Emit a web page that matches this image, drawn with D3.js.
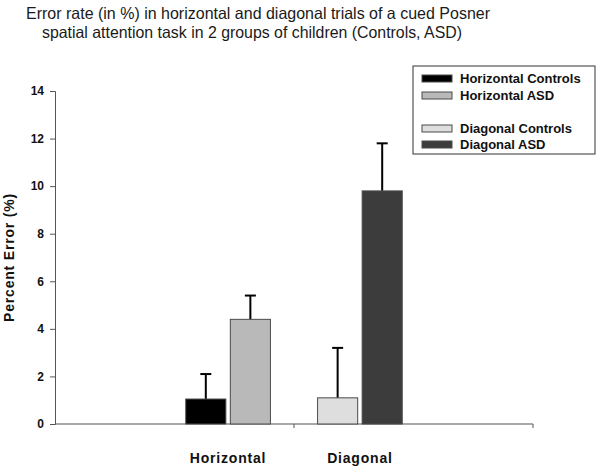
<!DOCTYPE html>
<html>
<head>
<meta charset="utf-8">
<script src="https://cdn.jsdelivr.net/npm/d3@7"></script>
<style>
  body { margin: 0; background: #fff; }
  svg { font-family: "Liberation Sans", Arial, sans-serif; }
</style>
</head>
<body>
<div id="chart"></div>
<script>
// data
const categories = ["Horizontal", "Diagonal"];
const groups = ["Controls", "ASD"];
const series = ["Horizontal Controls", "Horizontal ASD", "Diagonal Controls", "Diagonal ASD"];
const means = [1.05, 4.4, 1.1, 9.8];
const errors = [1.05, 1.0, 2.1, 2.0];
const yTicks = [0, 2, 4, 6, 8, 10, 12, 14];
const titleLines = [
  "Error rate (in %) in horizontal and diagonal trials of a cued Posner",
  "spatial attention task in 2 groups of children (Controls, ASD)"
];

const colors = ["#000000", "#b9b9b9", "#dedede", "#3c3c3c"];

const width = 600, height = 470;
const margin = {top: 91, right: 67, bottom: 46, left: 55};

const svg = d3.select("#chart")
    .append("svg")
    .attr("width", width)
    .attr("height", height);

// title, two separate lines
const titlePos = [{x: 26, y: 19, len: 464}, {x: 42, y: 37.5, len: 420}];
svg.selectAll(".title")
    .data(titleLines)
    .join("text")
    .attr("class", "title")
    .attr("x", (d, i) => titlePos[i].x)
    .attr("y", (d, i) => titlePos[i].y)
    .attr("textLength", (d, i) => titlePos[i].len)
    .attr("lengthAdjust", "spacingAndGlyphs")
    .attr("font-size", 16.5)
    .attr("fill", "#1a1a1a")
    .text(d => d);

// scales
const x0 = d3.scaleBand()
    .domain(categories)
    .range([margin.left, width - margin.right])
    .padding(0);

// bars of each category sit toward the middle of the chart
const x1 = d3.scaleBand()
    .domain(categories.slice().reverse())
    .range([0, x0.bandwidth()])
    .paddingInner(0.21)
    .paddingOuter(0.22);

const x2 = d3.scaleBand()
    .domain(groups)
    .range([0, x1.bandwidth()])
    .paddingInner(0.1);

const y = d3.scaleLinear()
    .domain([0, 14])
    .range([height - margin.bottom, margin.top]);

// y axis
const yAxis = svg.append("g")
    .attr("transform", `translate(${margin.left},0)`)
    .call(d3.axisLeft(y).tickValues(yTicks).tickSize(5).tickPadding(6));
yAxis.select(".domain").attr("stroke", "#555");
yAxis.selectAll(".tick line").attr("stroke", "#555");
yAxis.selectAll(".tick text")
    .attr("font-family", "'Liberation Sans', Arial, sans-serif")
    .attr("font-size", 12)
    .attr("font-weight", "bold")
    .attr("fill", "#111");

svg.append("text")
    .attr("transform", `translate(14,${(y(0) + y(14)) / 2}) rotate(-90)`)
    .attr("text-anchor", "middle")
    .attr("font-size", 14)
    .attr("font-weight", "bold")
    .attr("letter-spacing", 0.8)
    .attr("fill", "#111")
    .text("Percent Error (%)");

// x axis line with ticks at category boundaries
svg.append("line")
    .attr("x1", margin.left).attr("x2", width - margin.right)
    .attr("y1", y(0)).attr("y2", y(0))
    .attr("stroke", "#555");
svg.selectAll(".xtick")
    .data(categories.slice(1).concat(["end"]))
    .join("line")
    .attr("class", "xtick")
    .attr("x1", d => d === "end" ? width - margin.right : x0(d))
    .attr("x2", d => d === "end" ? width - margin.right : x0(d))
    .attr("y1", y(0)).attr("y2", y(0) + 4)
    .attr("stroke", "#555");

const rows = series.map((s, i) => ({
  name: s,
  cat: s.split(" ")[0],
  grp: s.split(" ")[1],
  mean: means[i],
  err: errors[i],
  color: colors[i]
}));

const bx = d => x0(d.cat) + x1(d.cat) + x2(d.grp);

// error bars (drawn behind bars)
const eb = svg.append("g");
eb.selectAll("line.stem")
    .data(rows)
    .join("line")
    .attr("class", "stem")
    .attr("x1", d => bx(d) + x2.bandwidth() / 2)
    .attr("x2", d => bx(d) + x2.bandwidth() / 2)
    .attr("y1", d => y(d.mean))
    .attr("y2", d => y(d.mean + d.err))
    .attr("stroke", "#000")
    .attr("stroke-width", 2);
eb.selectAll("line.cap")
    .data(rows)
    .join("line")
    .attr("class", "cap")
    .attr("x1", d => bx(d) + x2.bandwidth() / 2 - 5.5)
    .attr("x2", d => bx(d) + x2.bandwidth() / 2 + 5.5)
    .attr("y1", d => y(d.mean + d.err))
    .attr("y2", d => y(d.mean + d.err))
    .attr("stroke", "#000")
    .attr("stroke-width", 2);

// bars
svg.append("g")
    .selectAll("rect")
    .data(rows)
    .join("rect")
    .attr("x", d => bx(d))
    .attr("y", d => y(d.mean))
    .attr("width", x2.bandwidth())
    .attr("height", d => y(0) - y(d.mean))
    .attr("fill", d => d.color)
    .attr("stroke", "#4a4a4a")
    .attr("stroke-width", 1);

// category labels under their bars
svg.selectAll(".catlabel")
    .data(categories)
    .join("text")
    .attr("class", "catlabel")
    .attr("x", d => x0(d) + x1(d) + x1.bandwidth() / 2)
    .attr("y", 463)
    .attr("text-anchor", "middle")
    .attr("font-size", 14)
    .attr("font-weight", "bold")
    .attr("letter-spacing", 0.8)
    .attr("fill", "#111")
    .text(d => d);

// legend
const legend = svg.append("g").attr("transform", "translate(413,66)");
legend.append("rect")
    .attr("width", 182).attr("height", 88)
    .attr("fill", "#fff")
    .attr("stroke", "#333");
const legendY = [12.5, 29.5, 62.5, 78.5];
const li = legend.selectAll(".li")
    .data(rows)
    .join("g")
    .attr("class", "li")
    .attr("transform", (d, i) => `translate(9,${legendY[i]})`);
li.append("rect")
    .attr("x", 0).attr("y", -3.5)
    .attr("width", 30).attr("height", 7)
    .attr("fill", d => d.color)
    .attr("stroke", "#4a4a4a");
li.append("text")
    .attr("x", 38).attr("y", 4.5)
    .attr("font-size", 13)
    .attr("font-weight", "bold")
    .attr("fill", "#111")
    .text(d => d.name);
</script>
</body>
</html>
